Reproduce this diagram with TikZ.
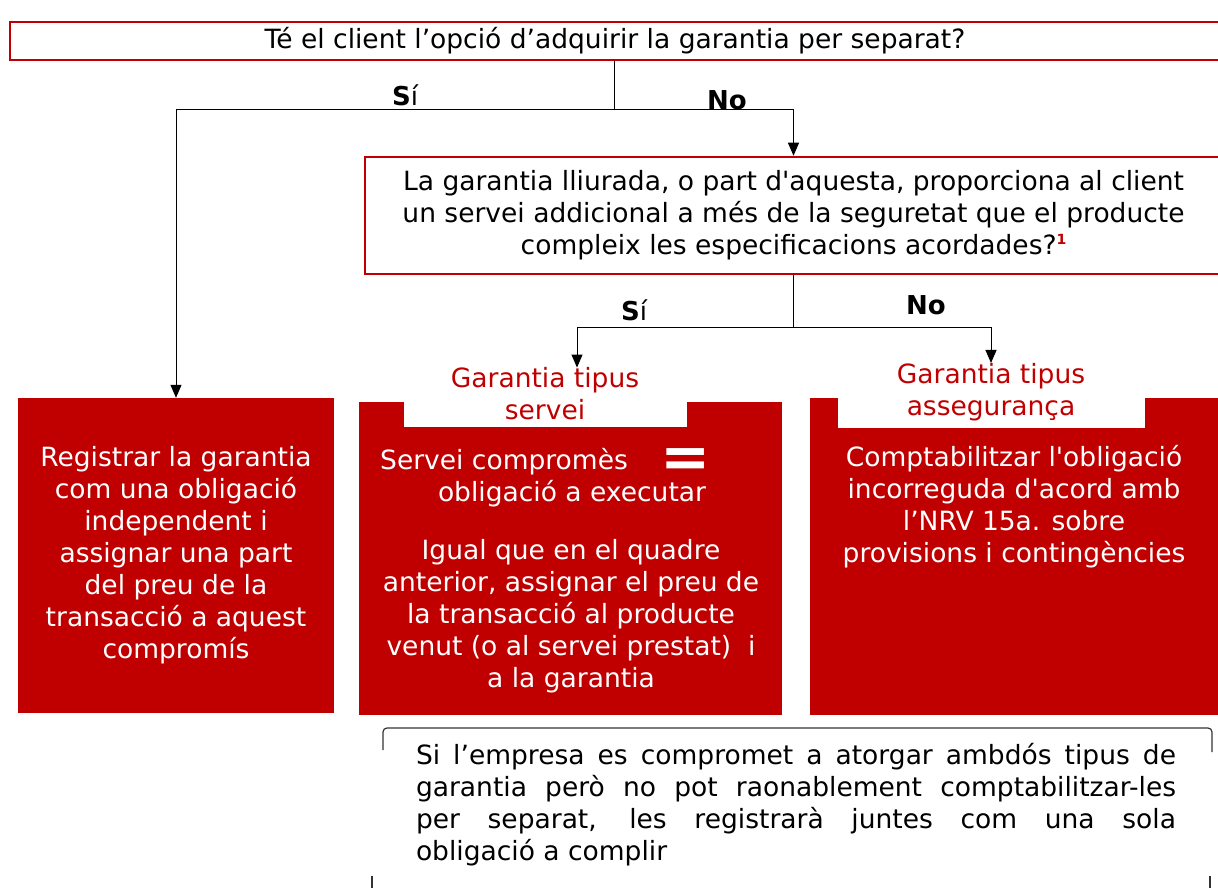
\documentclass[tikz,border=0pt]{standalone}
\usepackage{fontspec}
\setmainfont{DejaVu Sans}
\usetikzlibrary{arrows.meta}
\definecolor{boxRed}{HTML}{C00000}
\tikzset{
    question/.style={
            draw=boxRed,
            line width=2.5pt,
            fill=white,
            inner sep=0pt,
            align=center,
            font=\fontsize{26.5}{32}\selectfont
        },
    redbox/.style={
            fill=boxRed,
            inner sep=0pt % no padding
        },
    boxtext/.style={
            text=white,
            align=center,
            inner sep=0pt,
            font=\fontsize{26.5}{32}\selectfont
        },
    kindlabel/.style={
            text=boxRed,
            align=center,
            inner sep=0pt,
            font=\fontsize{26.5}{32}\selectfont
        },
    answer/.style={
            font=\fontsize{26}{26}\selectfont,
            inner sep=0pt
        },
    flow/.style={
            line width=1pt,
            -{Triangle[length=13pt,width=11pt]}
        },
    frame/.style={
            line width=1.2pt,
            black!80
        }
}
\newcommand{\footmark}{%
    {\color{boxRed}\bfseries\fontsize{14}{14}\selectfont\raisebox{10pt}{1}}%
}
\newcommand{\yes}{\textbf{S}í}

\begin{document}
\begin{tikzpicture}[x=1pt,y=-1pt]
    \useasboundingbox (0,0) rectangle (1218,888);
    % questions
    \node[question, minimum width=1210, minimum height=38] (q1) at (615,41)
    {Té el client l’opció d’adquirir la garantia per separat?};
    \node[question, minimum width=857, minimum height=117] (q2) at (793.5,215.5)
    {La garantia lliurada, o part d\textquotesingle aquesta, proporciona al client\\
     un servei addicional a més de la seguretat que el producte\\
     compleix les especificacions acordades?\footmark};
    % red boxes
    \node[redbox, minimum width=316, minimum height=315] (r1) at (176,555.5) {};
    \node[redbox, minimum width=423, minimum height=313] (r2) at (570.5,558.5) {};
    \node[redbox, minimum width=409, minimum height=317] (r3) at (1014.5,556.5) {};
    \fill[white] (404,400) rectangle (687,427);
    \fill[white] (838,396) rectangle (1145,428);
    \node[kindlabel] (l2) at (545,394) {Garantia tipus\\servei};
    \node[kindlabel] (l3) at (991,392) {Garantia tipus\\assegurança};
    % box texts
    \node[boxtext] at (r1.center) {Registrar la garantia\\com una obligació\\independent i\\
        assignar una part\\del preu de la\\transacció a aquest\\compromís};
    \node[boxtext, anchor=west] (sc) at (380,462) {Servei compromès};
    \node[text=white, inner sep=0pt, font=\bfseries\fontsize{60}{60}\selectfont] at (686,463) {=};
    \node[boxtext] at (572,494) {obligació a executar};
    \node[boxtext] at (571,616) {Igual que en el quadre\\anterior, assignar el preu de\\
        la transacció al producte\\venut (o al servei prestat)~~i\\a la garantia};
    \node[boxtext] at (1014,507) {Comptabilitzar l\textquotesingle obligació\\
        incorreguda d\textquotesingle acord amb\\
        l’NRV 15a. sobre\\provisions i contingències};
    % connectors
    \coordinate (j1) at (614,110);
    \coordinate (j2) at (793.5,327);
    \draw[line width=1pt] (q1.south -| j1) -- (j1);
    \draw[flow] (j1) -| (r1.north);
    \draw[flow] (j1) -| (q2.north);
    \draw[line width=1pt] (q2.south) -- (j2);
    \draw[flow] (j2) -| ([xshift=32]l2.north);
    \draw[flow] (j2) -| (l3.north);
    \node[answer] at (405,95) {\yes};
    \node[answer, font=\bfseries\fontsize{26}{26}\selectfont] at (727,100) {No};
    \node[answer] at (634,310) {\yes};
    \node[answer, font=\bfseries\fontsize{26}{26}\selectfont] at (926,305) {No};
    % note frame
    \draw[frame] (383,750) -- (383,732) to[out=90,in=180] (387,728)
    -- (1208,728) to[out=0,in=90] (1212,732) -- (1212,752);
    \draw[frame] (372,876) -- (372,888);
    \draw[frame] (1210,876) -- (1210,888);
    \node[inner sep=0pt, text width=760, align=justify, font=\fontsize{26.5}{32}\selectfont]
    (note) at (796,805) {Si l’empresa es compromet a atorgar ambdós tipus de\linebreak
        garantia però no pot raonablement comptabilitzar-les\linebreak
        per separat, les registrarà juntes com una sola\linebreak
        obligació a complir};
\end{tikzpicture}
\end{document}
